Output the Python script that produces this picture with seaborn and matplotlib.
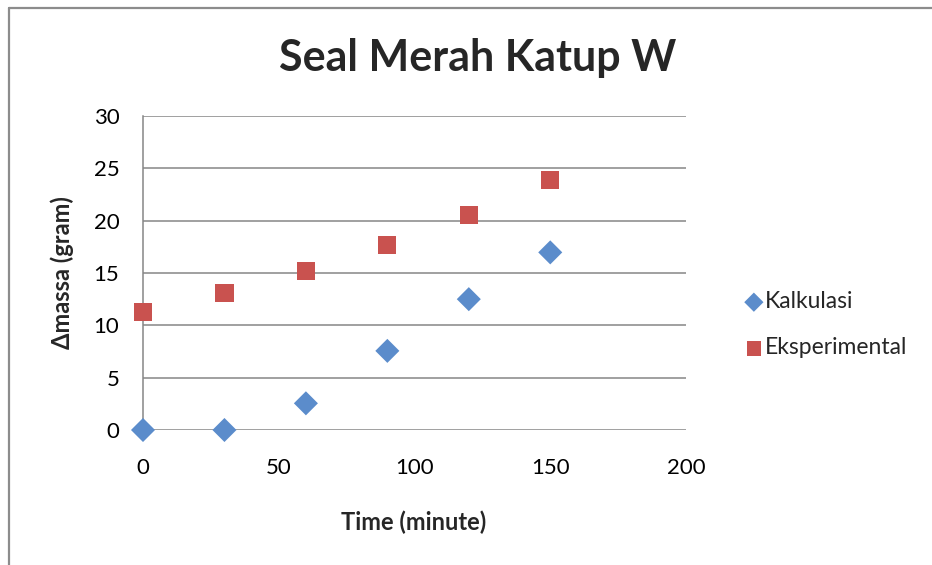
import matplotlib
matplotlib.use("Agg")
import matplotlib.pyplot as plt
import seaborn as sns
import pandas as pd
from matplotlib.lines import Line2D

time_min = [0, 30, 60, 90, 120, 150]
kalkulasi = [0.0, 0.0, 2.55, 7.56, 12.5, 16.97]
eksperimental = [11.3, 13.1, 15.2, 17.7, 20.5, 23.86]
series_names = ["Kalkulasi", "Eksperimental"]
x_ticks = [0, 50, 100, 150, 200]
y_ticks = [0, 5, 10, 15, 20, 25, 30]

df = pd.DataFrame({
    "time": time_min * 2,
    "value": kalkulasi + eksperimental,
    "series": [series_names[0]] * len(time_min) + [series_names[1]] * len(time_min),
})

sns.set_theme(style="white")
plt.rcParams["font.family"] = ["Lato", "DejaVu Sans"]

fig = plt.figure(figsize=(9.32, 5.65), dpi=100)
ax = fig.add_axes([143 / 932, 1 - 430 / 565, (686 - 143) / 932, (430 - 116) / 565])

# outer chart border (only left and top visible in the reference crop)
bx = 8.5 / 932
by = 1 - 8 / 565
fig.add_artist(Line2D([bx, bx], [0, by], transform=fig.transFigure, color="#8c8c8c", linewidth=1.6))
fig.add_artist(Line2D([bx, 1], [by, by], transform=fig.transFigure, color="#8c8c8c", linewidth=1.6))

blue = "#5b8ccb"
red = "#c9524f"
for name, mk, col, sz in [(series_names[0], "D", blue, 150), (series_names[1], "s", red, 170)]:
    sub = df[df["series"] == name]
    sns.scatterplot(data=sub, x="time", y="value", ax=ax, marker=mk, color=col,
                    s=sz, edgecolor="none", label=name, zorder=3, clip_on=False)

ax.set_xlim(0, 200)
ax.set_ylim(0, 30)
ax.set_xticks(x_ticks)
ax.set_yticks(y_ticks)
ax.tick_params(axis="both", length=0, labelsize=16, colors="#000000")
ax.tick_params(axis="x", pad=20)
ax.tick_params(axis="y", pad=17)
ax.yaxis.grid(True, color="#868686", linewidth=1.1)
ax.set_axisbelow(True)
for side in ["top", "right", "bottom"]:
    ax.spines[side].set_visible(False)
ax.spines["left"].set_color("#868686")
ax.spines["left"].set_linewidth(1.1)

ax.set_xlabel("Time (minute)", fontsize=17, fontweight="bold")
ax.set_ylabel("\u0394massa (gram)", fontsize=17, fontweight="bold")
ax.xaxis.set_label_coords((414 - 143) / 543, (430 - 522) / 314)
ax.yaxis.set_label_coords((62 - 143) / 543, (430 - 273) / 314)
ax.xaxis.label.set_va("center")
ax.yaxis.label.set_va("center")

fig.text(478 / 932, 1 - 58 / 565, "Seal Merah Katup W", fontsize=31, fontweight="bold",
         ha="center", va="center")

leg = ax.legend(loc="center left", bbox_to_anchor=(1.068, 0.335), frameon=False,
                fontsize=16.5, handletextpad=0.05, labelspacing=1.1, markerscale=0.8,
                handlelength=0.9)

fig.savefig("out.png", dpi=100)
